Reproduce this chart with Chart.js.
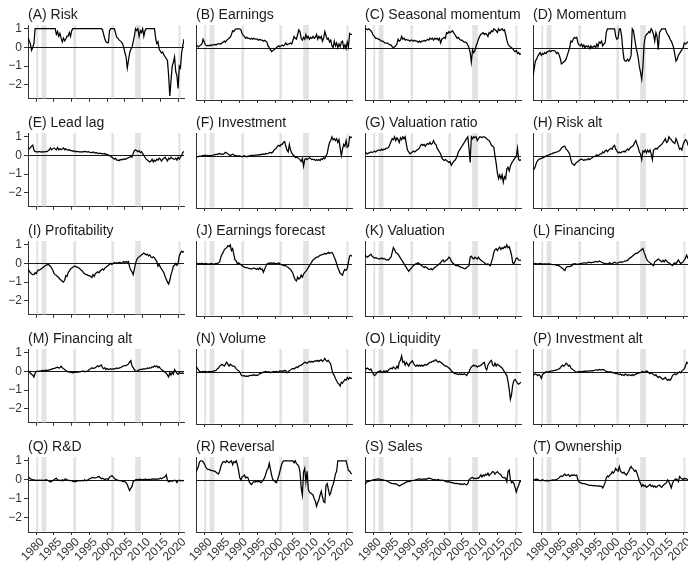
<!DOCTYPE html>
<html><head><meta charset="utf-8">
<script src="https://cdn.jsdelivr.net/npm/chart.js@4.4.1/dist/chart.umd.min.js"></script>
<style>
html,body{margin:0;padding:0;background:#fff;}
body{width:688px;height:567px;overflow:hidden;position:relative;}
canvas{position:absolute;}
</style></head><body>
<script>
// ---------- data ----------
const startYear = 1977.67;          // first observation (time axis step = 1/3 year)
const yearTicks = [1980,1985,1990,1995,2000,2005,2010,2015,2020];
const valueTicks = [-2,-1,0,1];
const recessions = [[1980.0,1980.5],[1981.5,1982.9],[1990.5,1991.2],[2001.2,2001.9],[2007.9,2009.5],[2020.1,2020.4]];

const panelTitles = ["(A) Risk","(B) Earnings","(C) Seasonal momentum","(D) Momentum",
  "(E) Lead lag","(F) Investment","(G) Valuation ratio","(H) Risk alt",
  "(I) Profitability","(J) Earnings forecast","(K) Valuation","(L) Financing",
  "(M) Financing alt","(N) Volume","(O) Liquidity","(P) Investment alt",
  "(Q) R&D","(R) Reversal","(S) Sales","(T) Ownership"];

const risk = [0.55,
 0.35,0.2,-0.15, 0.0,0.2,1.0,
 1,1,1, 1,1,1, 1,1,1, 1,1,1, 1,1,1,
 1.0,1.0,0.7, 0.85,0.6,0.75, 0.5,0.3,0.5, 0.35,0.45,0.6, 0.6,0.8,0.6,
 0.9,1.0,1.0, 1,1,1, 1,1,1, 1,1,1, 1,1,1,
 1,1,1, 1,1,1, 1,1,1, 1.0,1.0,0.95, 0.7,0.45,0.3,
 0.25,0.25,0.9, 1,1,1, 1.0,0.8,0.55, 0.5,0.4,0.35, 0.3,0.2,0.0,
 -0.3,-0.5,-1.1, -0.7,-0.3,-0.1, 0.0,0.3,0.6, 1.0,0.9,1.0, 0.6,0.9,0.8,
 1.0,0.6,0.9, 1,1,1, 1,1,1, 1.0,1.0,0.5, 0.2,0.3,-0.1,
 -0.2,-0.3,-0.25, -0.4,-0.5,-0.6, -0.7,-1.5,-2.6, -1.8,-1.0,-0.8, -0.5,-1.3,-1.5,
 -2.2,-1.0,-1.1, -0.3,0.1,0.45];

const earnings = [0.1,
 0.1,0.05,0.1, 0.15,0.2,0.45,
 0.3,0.15,0.1, 0.12,0.1,0.15, 0.12,0.15,0.15, 0.18,0.15,0.2, 0.2,0.22,0.2,
 0.25,0.3,0.35, 0.3,0.4,0.45, 0.5,0.55,0.7, 0.9,0.85,0.95, 1.0,1.0,1.0,
 1.0,0.95,0.75, 0.65,0.6,0.5, 0.55,0.5,0.5, 0.45,0.5,0.45, 0.5,0.45,0.45,
 0.45,0.4,0.45, 0.4,0.4,0.35, 0.4,0.35,0.3, 0.1,0.0,-0.1, -0.2,-0.15,-0.1,
 -0.05,0.0,0.05, 0.1,0.05,0.1, 0.15,0.1,0.15, 0.25,0.15,0.2, 0.2,0.25,0.2,
 0.4,0.6,0.5, 0.45,0.7,0.95, 0.85,0.5,0.4, 0.55,0.45,0.7, 0.5,0.6,0.45,
 0.55,0.5,0.6, 0.5,0.55,0.7, 0.45,0.6,0.5, 0.6,0.35,0.5, 0.85,0.65,0.45,
 0.5,0.3,0.4, 0.1,0.0,0.35, 0.1,0.25,0.0, 0.2,0.05,0.3, 0.35,0.0,0.15,
 -0.05,0.3,0.05, 0.75,0.7,0.7];

const seasonalMomentum = [1.0,
 1.0,0.95,1.0, 0.95,0.9,0.8,
 0.65,0.6,0.5, 0.5,0.45,0.45, 0.4,0.35,0.35, 0.3,0.25,0.25, 0.25,0.2,0.15,
 0.15,0.05,0.0, 0.05,0.1,0.2, 0.45,0.35,0.4, 0.6,0.45,0.5, 0.4,0.45,0.4,
 0.4,0.35,0.4, 0.4,0.35,0.4, 0.35,0.35,0.3, 0.35,0.3,0.35, 0.35,0.4,0.35,
 0.4,0.45,0.4, 0.5,0.45,0.5, 0.4,0.5,0.45, 0.5,0.4,0.5, 0.25,0.45,0.5,
 0.55,0.5,0.8, 0.75,0.85,0.8, 0.85,0.9,0.8, 0.7,0.6,0.5, 0.55,0.45,0.4,
 0.4,0.35,0.3, 0.3,0.25,0.15, 0.0,-0.25,-0.75, -0.1,-0.25,-0.15, 0.1,0.25,0.45,
 0.6,0.7,0.75, 0.8,0.7,0.75, 0.7,0.6,0.8, 0.75,0.9,0.85, 1.0,0.95,0.9,
 0.8,1.0,0.9, 0.95,1.0,0.9, 0.95,0.7,0.4, 0.2,0.1,0.05, 0.0,-0.05,-0.15,
 -0.2,-0.15,-0.3, -0.25,-0.35,-0.3];

const momentum = [-1.5,
 -1.1,-0.7,-0.6, -0.45,-0.35,-0.25,
 -0.4,-0.3,-0.35, -0.25,-0.3,-0.2, -0.2,-0.15,-0.2, -0.15,-0.15,-0.15, -0.2,-0.3,-0.25,
 -0.35,-0.55,-0.85, -0.8,-0.75,-0.7, -0.6,-0.4,-0.2, 0.0,0.35,0.3, 0.45,0.55,0.5,
 0.55,0.25,0.15, 0.1,0.2,0.05, 0.15,0.0,0.1, 0.05,0.1,-0.05, 0.1,0.0,0.05,
 0.1,0.0,0.2, 0.05,0.3,0.25, 0.35,0.1,0.2, 0.25,0.8,1.0, 1.0,1.0,1.0,
 1.0,1.0,1.0, 0.6,0.45,0.5, 1.0,1.0,0.6, -0.1,-0.6,-0.7, -0.7,-0.6,-0.7,
 -0.6,-0.4,1.0, 0.9,0.5,0.1, -0.2,-0.5,-1.0, -1.3,-1.65,-1.0, 0.2,0.6,0.7,
 0.75,0.85,0.8, 1.0,0.9,0.7, 0.35,0.8,0.6, -0.1,0.8,0.9, 1.0,1.0,1.0,
 1.0,0.8,0.7, 0.6,0.45,0.35, 0.2,0.0,-0.35, -0.7,-0.6,-0.4, -0.3,-0.2,-0.1,
 0.0,0.25,0.2, 0.25,0.3,0.25];

const leadLag = [0.45,
 0.35,0.4,0.5, 0.55,0.3,0.2,
 0.2,0.18,0.2, 0.2,0.18,0.2, 0.18,0.2,0.2, 0.2,0.25,0.3, 0.4,0.3,0.35,
 0.4,0.35,0.3, 0.42,0.3,0.35, 0.3,0.35,0.4, 0.3,0.35,0.3, 0.28,0.3,0.25,
 0.25,0.22,0.25, 0.2,0.22,0.2, 0.2,0.18,0.2, 0.18,0.2,0.22, 0.2,0.18,0.2,
 0.18,0.15,0.15, 0.18,0.15,0.12, 0.15,0.12,0.1, 0.12,0.1,0.1, 0.08,0.1,0.05,
 0.05,0.02,0.0, -0.05,-0.1,-0.15, -0.2,-0.15,-0.25, -0.25,-0.28,-0.22, -0.25,-0.2,-0.22,
 -0.18,-0.2,-0.15, -0.12,-0.1,-0.05, -0.1,0.1,0.25, 0.3,0.25,0.2, 0.25,0.15,0.2,
 0.1,0.0,-0.1, -0.2,-0.25,-0.3, -0.35,-0.3,-0.2, -0.35,-0.25,-0.3, -0.2,-0.25,-0.15,
 -0.2,-0.3,-0.2, -0.15,-0.1,-0.2, -0.3,-0.15,-0.2, -0.1,-0.15,-0.2, -0.2,-0.15,-0.25,
 -0.1,-0.2,-0.1, 0.0,0.15,0.22];

const investment = [-0.1,
 -0.05,-0.05,-0.02, -0.03,0.0,0.02,
 0.0,0.03,0.0, 0.02,0.0,0.02, 0.0,0.03,0.05, 0.05,0.08,0.06, 0.1,0.12,0.08,
 0.1,0.08,0.12, 0.18,0.15,0.1, 0.05,0.0,0.05, 0.08,0.05,0.0, 0.02,-0.02,0.0,
 0.0,-0.03,-0.05, -0.02,0.0,-0.03, -0.05,-0.02,0.0, 0.0,0.03,0.0, 0.02,0.04,0.03,
 0.05,0.06,0.04, 0.08,0.06,0.1, 0.08,0.12,0.1, 0.12,0.15,0.18, 0.15,0.2,0.3,
 0.35,0.4,0.5, 0.55,0.5,0.6, 0.6,0.7,0.75, 0.5,0.3,0.2, 0.6,0.3,0.15,
 0.05,0.0,-0.1, -0.05,-0.1,-0.15, -0.2,-0.3,-0.15, -0.55,-0.2,-0.15, -0.2,-0.15,-0.1,
 -0.15,-0.2,-0.18, -0.2,-0.25,-0.2, -0.25,-0.2,-0.25, -0.15,-0.2,-0.1, -0.15,0.0,0.1,
 0.45,0.7,0.8, 1.0,0.85,0.9, 0.8,0.9,0.7, 0.85,0.4,0.0, 0.35,0.6,0.5,
 0.8,0.45,0.5, 1.0,0.95,1.0];

const valuationRatio = [0.2,
 0.15,0.1,0.15, 0.15,0.2,0.18,
 0.2,0.25,0.2, 0.25,0.3,0.3, 0.28,0.35,0.3, 0.35,0.33,0.4, 0.4,0.45,0.6,
 0.75,0.9,0.85, 1.0,0.8,0.95, 0.85,0.7,0.95, 0.85,1.0,0.9, 1.0,0.6,0.3,
 0.2,0.1,0.15, 0.2,0.25,0.2, 0.25,0.3,0.35, 0.4,0.55,0.6, 0.55,0.6,0.5,
 0.6,0.65,0.6, 0.7,0.6,0.65, 0.8,0.65,0.6, 0.4,0.3,0.2, 0.1,-0.1,-0.2,
 -0.25,-0.2,-0.25, -0.3,-0.35,-0.3, -0.5,-0.4,-0.3, -0.25,-0.15,0.0, 0.2,0.3,0.4,
 0.5,0.6,0.7, 0.8,0.9,1.0, 0.4,-0.35,1.0, 0.9,1.0,0.95, 1.0,0.8,0.9,
 1.0,1.0,0.95, 1.0,1.0,0.95, 0.9,0.85,0.8, 0.7,0.55,0.5, 0.45,0.0,-0.4,
 -0.9,-1.2,-1.0, -1.2,-1.0,-1.4, -1.1,-1.2,-0.7, -0.6,-0.8,-0.55, -0.4,-0.3,-0.2,
 -0.1,-0.05,0.4, -0.2,-0.25,-0.2];

const riskAlt = [-0.75,
 -0.7,-0.55,-0.35, -0.25,-0.2,-0.15,
 -0.15,-0.1,-0.1, -0.05,0.0,0.0, 0.05,0.05,0.1, 0.1,0.15,0.15, 0.18,0.2,0.22,
 0.25,0.3,0.4, 0.45,0.5,0.5, 0.35,0.3,0.2, 0.1,-0.2,-0.4, -0.45,-0.5,-0.4,
 -0.35,-0.3,-0.25, -0.2,-0.18,-0.2, -0.25,-0.2,-0.22, -0.2,-0.15,-0.2, -0.15,-0.1,-0.05,
 -0.05,0.0,0.05, 0.0,0.05,0.1, 0.1,0.2,0.15, 0.25,0.3,0.22, 0.3,0.35,0.4,
 0.35,0.5,0.55, 0.35,0.25,0.15, 0.2,0.15,0.2, 0.2,0.25,0.2, 0.3,0.35,0.3,
 0.4,0.45,0.5, 0.55,0.7,0.8, 0.6,0.45,0.2, 0.1,-0.2,0.25, 0.2,0.3,0.15,
 0.3,0.2,0.3, 0.1,-0.2,0.3, 0.35,0.4,0.35, 0.45,0.5,0.55, 0.6,0.7,0.8,
 0.9,0.7,0.75, 1.0,0.9,0.85, 0.75,0.7,0.65, 0.9,0.75,0.55, 0.35,0.4,0.3,
 0.6,0.75,0.85, 0.8,0.6,0.7];

const profitability = [-0.3,
 -0.4,-0.5,-0.55, -0.6,-0.6,-0.5,
 -0.55,-0.4,-0.35, -0.35,-0.3,-0.25, -0.2,-0.15,-0.1, -0.08,-0.05,-0.1, -0.15,-0.25,-0.35,
 -0.55,-0.6,-0.65, -0.7,-0.75,-0.85, -0.9,-0.95,-1.0, -0.9,-0.65,-0.7, -0.5,-0.4,-0.3,
 -0.25,-0.2,-0.15, -0.15,-0.2,-0.2, -0.25,-0.3,-0.35, -0.4,-0.5,-0.55, -0.6,-0.6,-0.65,
 -0.65,-0.7,-0.75, -0.6,-0.7,-0.55, -0.5,-0.45,-0.5, -0.4,-0.35,-0.3, -0.35,-0.25,-0.2,
 -0.15,-0.1,-0.05, 0.0,-0.05,0.0, 0.05,0.0,0.05, 0.0,0.05,0.05, 0.0,0.05,0.1,
 0.05,0.1,0.05, 0.1,-0.2,-0.35, -0.45,-0.6,-0.3, 0.0,0.2,0.3, 0.35,0.4,0.45,
 0.5,0.55,0.5, 0.45,0.5,0.4, 0.45,0.35,0.3, 0.35,0.3,0.2, 0.1,-0.15,-0.05,
 -0.2,-0.3,-0.4, -0.5,-0.7,-0.85, -1.0,-1.1,-0.9, -0.6,-0.4,-0.15, -0.1,0.0,-0.1,
 0.0,0.4,0.55, 0.65,0.6,0.65];

const earningsForecast = [0.0,
 0.02,0.0,0.02, 0.0,0.03,0.0,
 0.0,0.02,0.0, 0.0,-0.02,0.0, 0.02,0.0,-0.03, 0.0,0.02,0.0, 0.05,0.1,0.35,
 0.5,0.6,0.75, 0.8,0.85,0.95, 0.9,1.0,0.7, 0.8,0.5,0.2, 0.15,0.0,0.05,
 0.0,-0.05,-0.1, -0.15,-0.18,-0.2, -0.2,-0.22,-0.25, -0.25,-0.28,-0.25, -0.22,-0.25,-0.3,
 -0.25,-0.3,-0.2, -0.3,-0.28,-0.45, -0.3,-0.15,0.0, 0.0,0.05,0.0, 0.05,0.0,0.05,
 0.0,0.02,0.0, 0.05,0.0,-0.05, -0.05,-0.1,-0.1, -0.1,-0.15,-0.2, -0.25,-0.3,-0.4,
 -0.5,-0.7,-0.85, -0.9,-0.7,-0.8, -0.75,-0.6,-0.7, -0.55,-0.45,-0.4, -0.3,-0.2,-0.1,
 0.0,0.1,0.2, 0.25,0.3,0.35, 0.35,0.4,0.45, 0.45,0.5,0.5, 0.55,0.5,0.55,
 0.6,0.55,0.58, 0.6,0.5,0.35, 0.2,0.0,-0.2, -0.35,-0.5,-0.55, -0.6,-0.4,-0.3,
 -0.35,-0.25,0.1, 0.4,0.45,0.4];

const valuation = [0.45,
 0.4,0.35,0.4, 0.45,0.5,0.4,
 0.35,0.3,0.32, 0.3,0.28,0.25, 0.27,0.3,0.25, 0.28,0.25,0.2, 0.22,0.2,0.3,
 0.35,0.6,0.85, 0.75,0.6,0.55, 0.5,0.4,0.3, 0.2,0.1,0.0, -0.1,-0.2,-0.3,
 -0.4,-0.3,-0.25, -0.15,-0.1,-0.05, 0.0,0.02,0.05, 0.0,-0.05,-0.1, -0.15,-0.2,-0.15,
 -0.2,-0.25,-0.3, -0.3,-0.25,-0.32, -0.25,-0.2,-0.15, -0.1,-0.05,0.0, 0.05,0.15,0.2,
 0.1,0.15,0.2, 0.25,0.35,0.3, 0.15,0.05,0.0, -0.05,-0.1,-0.08, -0.1,-0.15,-0.18,
 -0.2,-0.22,-0.25, -0.25,-0.2,-0.15, -0.1,0.35,0.4, 0.3,0.25,0.35, 0.3,0.25,0.35,
 0.25,0.2,0.15, 0.1,0.05,0.0, -0.05,0.0,-0.05, -0.1,0.1,0.3, 0.6,0.75,0.8,
 0.7,0.8,0.88, 0.75,0.85,0.8, 0.9,0.85,1.0, 0.85,0.9,0.7, 0.45,0.05,0.0,
 0.15,0.3,0.3, 0.2,0.18,0.2];

const financing = [0.02,
 0.0,0.02,0.0, 0.0,0.0,0.02,
 0.0,0.0,-0.02, 0.0,0.0,-0.02, 0.0,0.0,-0.03, -0.03,-0.05,-0.05, -0.05,-0.08,-0.08,
 -0.1,-0.15,-0.2, -0.25,-0.3,-0.35, -0.2,-0.15,-0.15, -0.15,-0.12,-0.1, 0.0,-0.02,0.0,
 -0.03,-0.02,0.0, 0.0,0.02,0.03, 0.05,0.05,0.03, 0.05,0.08,0.07, 0.05,0.07,0.08,
 0.1,0.12,0.1, 0.1,0.15,0.12, 0.08,0.05,0.03, 0.02,0.0,0.0, 0.02,0.05,0.0,
 0.0,0.05,0.08, 0.05,0.03,0.05, 0.08,0.1,0.08, 0.1,0.12,0.15, 0.15,0.18,0.25,
 0.3,0.35,0.4, 0.45,0.5,0.55, 0.55,0.6,0.65, 0.7,0.75,0.8, 0.6,0.45,0.25,
 0.15,0.1,0.05, 0.0,-0.05,-0.1, 0.1,0.15,0.2, 0.25,0.2,0.15, 0.1,0.18,0.1,
 0.2,0.15,0.08, 0.05,0.0,-0.05, -0.1,0.0,0.05, 0.0,0.1,0.2, 0.1,0.0,0.05,
 0.1,0.2,0.3, 0.45,0.3,0.25];

const financingAlt = [0.05,
 0.0,-0.1,-0.15, -0.2,-0.3,-0.1,
 0.0,0.02,0.0, 0.02,0.03,0.05, 0.03,0.05,0.05, 0.05,0.06,0.08, 0.1,0.12,0.15,
 0.15,0.18,0.2, 0.23,0.18,0.2, 0.28,0.2,0.15, 0.1,0.05,0.0, -0.02,-0.03,-0.05,
 -0.05,-0.07,-0.05, -0.05,-0.03,-0.05, -0.03,-0.02,0.0, 0.0,0.02,-0.02, 0.0,0.02,0.05,
 0.1,0.15,0.2, 0.15,0.18,0.2, 0.25,0.3,0.25, 0.3,0.35,0.2, 0.15,0.2,0.1,
 0.15,0.1,0.12, 0.15,0.1,0.15, 0.12,0.15,0.18, 0.15,0.18,0.2, 0.22,0.28,0.3,
 0.3,0.32,0.35, 0.4,0.5,0.58, 0.3,0.2,0.1, 0.0,0.0,0.05, 0.08,0.1,0.12,
 0.1,0.15,0.12, 0.15,0.18,0.15, 0.2,0.18,0.25, 0.22,0.3,0.25, 0.3,0.2,0.25,
 0.15,0.1,0.05, 0.0,-0.05,-0.1, -0.2,-0.3,-0.05, -0.2,-0.05,-0.15, 0.1,0.0,-0.1,
 -0.15,-0.05,-0.1, -0.1,-0.08,-0.1];

const volume = [0.3,
 0.2,0.1,0.02, 0.0,0.0,0.02,
 0.0,0.02,0.0, 0.0,0.02,0.0, 0.02,0.0,0.05, 0.05,0.08,0.15, 0.2,0.3,0.35,
 0.4,0.35,0.3, 0.4,0.5,0.4, 0.3,0.4,0.35, 0.3,0.3,0.25, 0.15,0.1,0.05,
 0.0,-0.15,-0.2, -0.22,-0.2,-0.25, -0.22,-0.25,-0.2, -0.2,-0.18,-0.2, -0.15,-0.2,-0.18,
 -0.2,-0.15,-0.1, -0.08,-0.05,-0.02, 0.0,0.02,0.0, -0.02,0.0,-0.05, -0.02,0.0,0.02,
 0.0,0.02,0.0, -0.02,0.05,0.02, 0.05,0.02,0.08, 0.05,-0.05,0.0, 0.05,0.1,0.15,
 0.18,0.15,0.2, 0.25,0.22,0.3, 0.32,0.35,0.4, 0.45,0.5,0.48, 0.45,0.5,0.55,
 0.5,0.55,0.5, 0.55,0.58,0.55, 0.6,0.55,0.6, 0.63,0.55,0.6, 0.7,0.6,0.55,
 0.6,0.5,0.4, 0.1,-0.1,-0.2, -0.35,-0.47,-0.6, -0.65,-0.75,-0.55, -0.6,-0.5,-0.4,
 -0.45,-0.3,-0.4, -0.3,-0.35,-0.35];

const liquidity = [0.2,
 0.15,0.2,0.15, 0.1,0.15,0.0,
 -0.1,-0.2,-0.15, -0.05,0.0,0.02, 0.05,0.0,-0.03, 0.05,0.0,0.05, 0.0,0.1,0.15,
 0.2,0.15,0.25, 0.2,0.15,0.3, 0.2,0.5,0.6, 0.84,0.5,0.55, 0.35,0.5,0.4,
 0.3,0.45,0.5, 0.58,0.45,0.35, 0.3,0.35,0.3, 0.35,0.3,0.35, 0.3,0.35,0.4,
 0.35,0.4,0.45, 0.5,0.5,0.55, 0.55,0.6,0.63, 0.55,0.5,0.55, 0.5,0.45,0.4,
 0.35,0.3,0.3, 0.25,0.2,0.15, 0.05,0.0,-0.05, -0.1,-0.1,-0.12, -0.15,-0.1,-0.15,
 -0.12,-0.15,-0.1, -0.15,-0.2,-0.1, 0.0,0.15,0.25, 0.3,0.35,0.3, 0.32,0.25,0.3,
 0.3,0.35,0.4, 0.45,0.5,0.2, 0.1,0.35,0.45, 0.55,0.6,0.35, 0.3,0.45,0.3,
 0.4,0.35,0.3, 0.25,0.2,0.1, 0.0,-0.1,-0.2, -0.5,-0.9,-1.45, -1.2,-0.7,-0.45,
 -0.4,-0.5,-0.6, -0.65,-0.6,-0.55];

const investmentAlt = [-0.2,
 -0.15,-0.1,-0.15, -0.2,-0.15,-0.2,
 -0.35,-0.15,-0.1, -0.05,0.0,-0.02, 0.0,0.02,0.03, 0.05,0.05,0.08, 0.08,0.1,0.12,
 0.15,0.2,0.3, 0.35,0.3,0.35, 0.45,0.4,0.3, 0.35,0.2,0.15, 0.1,0.05,0.0,
 -0.02,0.0,0.02, 0.0,0.02,0.0, 0.03,0.02,0.05, 0.02,0.04,0.05, 0.05,0.06,0.05,
 0.08,0.1,0.1, 0.08,0.12,0.1, 0.1,0.12,0.1, 0.05,0.02,0.0, 0.0,-0.02,0.0,
 -0.05,-0.03,-0.08, -0.1,-0.08,-0.12, -0.15,-0.12,-0.18, -0.15,-0.2,-0.12, -0.15,-0.2,-0.15,
 -0.18,-0.2,-0.15, -0.2,-0.15,-0.12, -0.1,-0.08,-0.05, -0.05,0.0,0.02, -0.02,0.0,0.05,
 0.0,-0.05,-0.1, -0.05,-0.1,-0.15, -0.2,-0.15,-0.25, -0.3,-0.25,-0.3, -0.35,-0.4,-0.35,
 -0.3,-0.4,-0.45, -0.4,-0.45,-0.35, -0.2,-0.15,-0.1, -0.15,-0.1,-0.05, 0.0,-0.05,0.05,
 0.1,0.15,0.3, 0.5,0.45,0.4];

const rAndD = [0.05,
 0.1,0.05,0.03, 0.0,0.0,-0.02,
 -0.03,-0.02,-0.03, -0.02,-0.03,-0.02, -0.03,-0.02,0.0, 0.0,-0.05,-0.08, -0.12,-0.08,-0.05,
 0.0,0.05,0.08, 0.0,-0.03,-0.02, -0.05,0.0,-0.05, 0.03,0.04,0.0, -0.02,-0.03,-0.05,
 -0.05,-0.08,-0.1, -0.1,-0.08,-0.05, -0.05,-0.06,-0.05, -0.03,-0.05,0.0, -0.05,-0.02,0.0,
 0.05,0.08,0.1, 0.12,0.1,0.1, 0.12,0.15,0.17, 0.12,0.05,0.08, 0.05,0.0,0.05,
 0.05,0.02,0.15, 0.17,0.22,0.15, 0.08,0.02,0.0, -0.02,-0.05,-0.05, -0.05,-0.08,-0.1,
 -0.1,-0.15,-0.25, -0.43,-0.57,-0.45, -0.35,-0.1,-0.05, 0.0,0.02,0.0, 0.02,0.03,0.0,
 0.02,0.0,0.03, 0.02,0.0,0.03, 0.0,0.02,0.05, 0.03,0.05,0.02, 0.05,0.03,0.05,
 0.08,0.05,0.1, 0.12,0.17,0.26, -0.05,-0.1,-0.08, -0.05,-0.08,-0.05, -0.02,-0.05,-0.15,
 -0.05,-0.02,-0.05, -0.03,-0.05,-0.03];

const reversal = [0.4,
 0.55,0.7,0.95, 1.0,1.0,0.95,
 0.85,0.7,0.6, 0.55,0.55,0.5, 0.5,0.48,0.45, 0.45,0.4,0.35, 0.3,0.45,0.7,
 0.85,0.95,0.95, 0.9,1.0,0.95, 0.9,0.95,1.0, 0.8,0.95,0.9, 1.0,0.8,0.5,
 0.1,0.0,0.15, 0.2,0.25,0.1, 0.15,0.1,-0.1, -0.2,-0.25,-0.15, -0.1,-0.12,-0.08,
 -0.1,-0.08,-0.1, -0.15,-0.1,0.0, 0.1,0.3,0.5, 0.6,0.87,0.55, 0.25,0.0,-0.05,
 -0.1,-0.15,0.0, 0.2,0.45,0.7, 0.9,1.0,1.0, 1.0,1.0,1.0, 1.0,1.0,1.0,
 1.0,0.9,1.0, 0.85,0.8,0.7, 0.4,-0.43,-0.8, 0.4,0.6,-0.1, 0.45,-0.5,-0.65,
 -0.7,-0.75,-0.8, -1.0,-1.13,-1.4, -1.2,-1.05,-0.8, -0.6,-0.9,-1.15, -1.2,-0.3,-0.2,
 -0.5,-0.8,-0.7, -0.4,-0.26,0.0, 0.3,0.45,1.0, 1.0,1.0,1.0, 1.0,1.0,1.0,
 1.0,0.75,0.5, 0.45,0.35,0.3];

const sales = [-0.26,
 -0.15,-0.1,-0.08, -0.06,-0.05,-0.02,
 0.0,0.01,0.02, 0.03,0.05,0.04, 0.02,0.01,0.0, -0.02,-0.03,-0.05, -0.08,-0.12,-0.15,
 -0.18,-0.2,-0.2, -0.22,-0.2,-0.25, -0.28,-0.33,-0.3, -0.25,-0.22,-0.2, -0.15,-0.12,-0.1,
 -0.1,-0.08,-0.05, -0.05,-0.03,-0.02, 0.0,0.02,0.03, 0.05,0.03,0.02, 0.04,0.02,0.05,
 0.03,0.06,0.09, 0.08,0.05,0.03, 0.0,0.02,-0.02, 0.0,0.02,-0.03, -0.02,-0.03,-0.02,
 -0.05,-0.08,-0.1, -0.12,-0.1,-0.12, -0.15,-0.14,-0.18, -0.2,-0.18,-0.2, -0.22,-0.2,-0.25,
 -0.22,-0.25,-0.2, -0.25,-0.26,-0.2, 0.0,0.05,0.1, 0.12,0.05,0.08, 0.05,0.1,0.08,
 0.15,0.26,0.15, 0.25,0.2,0.3, 0.25,0.35,0.22, 0.3,0.35,0.43, 0.4,0.3,0.38,
 0.43,0.35,0.3, 0.25,0.15,0.1, 0.12,0.08,-0.1, 0.43,0.52,0.0, -0.15,-0.1,-0.2,
 -0.4,-0.64,-0.45, -0.3,-0.1,-0.1];

const ownership = [0.0,
 0.0,0.02,0.03, 0.02,-0.02,-0.05,
 -0.03,0.0,-0.03, -0.04,-0.05,-0.03, -0.05,-0.04,-0.03, -0.02,0.0,-0.02, 0.0,0.02,0.05,
 0.1,0.17,0.2, 0.17,0.25,0.3, 0.22,0.25,0.28, 0.18,0.22,0.25, 0.23,0.25,0.22,
 0.25,0.0,-0.12, -0.15,-0.18,-0.2, -0.2,-0.22,-0.23, -0.25,-0.28,-0.3, -0.3,-0.3,-0.32,
 -0.3,-0.32,-0.32, -0.33,-0.32,-0.35, -0.35,-0.43,-0.3, -0.15,0.1,0.2, 0.15,0.25,0.3,
 0.43,0.35,0.45, 0.6,0.5,0.45, 0.7,0.45,0.4, 0.35,0.4,0.3, 0.25,0.35,0.45,
 0.6,0.7,0.6, 0.55,0.45,0.5, 0.35,0.15,-0.05, -0.2,-0.35,-0.25, -0.35,-0.3,-0.4,
 -0.35,-0.3,-0.25, -0.35,-0.3,-0.38, -0.32,-0.4,-0.35, -0.3,-0.28,-0.35, -0.4,-0.3,-0.25,
 -0.2,-0.15,0.0, -0.1,-0.25,-0.43, -0.2,-0.05,0.0, 0.05,0.0,-0.1, 0.17,0.1,0.05,
 0.0,0.08,0.05, 0.05,0.0,0.02];

const seriesValues = [risk, earnings, seasonalMomentum, momentum,
  leadLag, investment, valuationRatio, riskAlt,
  profitability, earningsForecast, valuation, financing,
  financingAlt, volume, liquidity, investmentAlt,
  rAndD, reversal, sales, ownership];

// ---------- layout ----------
const COL_LEFT = [28, 196, 365, 533];
const ROW_BOTTOM = [100, 208, 316, 424, 532];
const PLOT_W = 156, PLOT_H = 75, AXIS_W = 28, TITLE_H = 22, RIGHT_PAD = 5;
const X_MIN = 1977.67, X_MAX = 2021.67, Y_MIN = -2.75, Y_MAX = 1.2;
const INK = '#1a1a1a', AXIS_INK = '#333333';

Chart.defaults.font.family = "'Liberation Sans', Arial, Helvetica, sans-serif";
Chart.defaults.devicePixelRatio = 1;

const panelPlugin = {
  id: 'panelDecor',
  beforeDatasetsDraw(chart) {
    const {ctx, chartArea: a, scales: {x, y}} = chart;
    ctx.save();
    ctx.fillStyle = '#e2e2e2';
    for (const [s, e] of recessions) {
      const x0 = x.getPixelForValue(s), x1 = x.getPixelForValue(e);
      ctx.fillRect(x0, a.top, Math.max(x1 - x0, 2), a.bottom - a.top - 0.5);
    }
    const y0 = Math.round(y.getPixelForValue(0)) + 0.5;
    ctx.strokeStyle = INK; ctx.lineWidth = 1;
    ctx.beginPath(); ctx.moveTo(a.left, y0); ctx.lineTo(a.right, y0); ctx.stroke();
    ctx.restore();
  },
  afterDraw(chart) {
    const {ctx, chartArea: a} = chart;
    ctx.save();
    ctx.font = "14px 'Liberation Sans', Arial, sans-serif";
    ctx.fillStyle = INK;
    ctx.textBaseline = 'alphabetic';
    ctx.textAlign = 'left';
    ctx.fillText(chart.options.plugins.panelDecor.title, a.left, a.top - 6);
    ctx.restore();
  }
};

seriesValues.forEach((vals, idx) => {
  const col = idx % 4, row = Math.floor(idx / 4);
  const bottomH = row === 4 ? 34 : 8;
  const cw = AXIS_W + PLOT_W + RIGHT_PAD, ch = TITLE_H + PLOT_H + bottomH;
  const cv = document.createElement('canvas');
  cv.width = cw; cv.height = ch;
  cv.style.left = (COL_LEFT[col] - AXIS_W) + 'px';
  cv.style.top = (ROW_BOTTOM[row] - PLOT_H - TITLE_H) + 'px';
  cv.style.width = cw + 'px'; cv.style.height = ch + 'px';
  document.body.appendChild(cv);

  const points = vals.map((v, i) => ({x: startYear + i / 3, y: v}));

  new Chart(cv, {
    type: 'line',
    data: { datasets: [{ data: points, borderColor: '#000', borderWidth: 1.25,
      pointRadius: 0, tension: 0, fill: false }] },
    plugins: [panelPlugin],
    options: {
      responsive: false, animation: false, events: [],
      layout: { padding: { top: TITLE_H, right: RIGHT_PAD, left: 0, bottom: 0 } },
      plugins: { legend: { display: false }, tooltip: { enabled: false },
        panelDecor: { title: panelTitles[idx] } },
      scales: {
        x: {
          type: 'linear', min: X_MIN, max: X_MAX, bounds: 'data',
          afterBuildTicks: sc => { sc.ticks = yearTicks.map(v => ({value: v})); },
          afterFit: sc => { sc.height = bottomH; },
          grid: { drawOnChartArea: false, drawTicks: true, tickLength: 3, color: AXIS_INK, lineWidth: 1 },
          border: { display: true, color: AXIS_INK, width: 1 },
          ticks: { display: row === 4, autoSkip: false, minRotation: 45, maxRotation: 45,
            padding: 0, labelOffset: 6, color: AXIS_INK, font: { size: 12 }, callback: v => String(v) }
        },
        y: {
          min: Y_MIN, max: Y_MAX,
          afterBuildTicks: sc => { sc.ticks = valueTicks.map(v => ({value: v})); },
          afterFit: sc => { sc.width = AXIS_W; },
          grid: { drawOnChartArea: false, drawTicks: col === 0, tickLength: 4, color: AXIS_INK, lineWidth: 1 },
          border: { display: true, color: AXIS_INK, width: 1 },
          ticks: { display: col === 0, padding: 2, color: AXIS_INK, font: { size: 12 },
            callback: v => (v < 0 ? '\u2212' + Math.abs(v) : String(v)) }
        }
      }
    }
  });
});
</script>
</body></html>
